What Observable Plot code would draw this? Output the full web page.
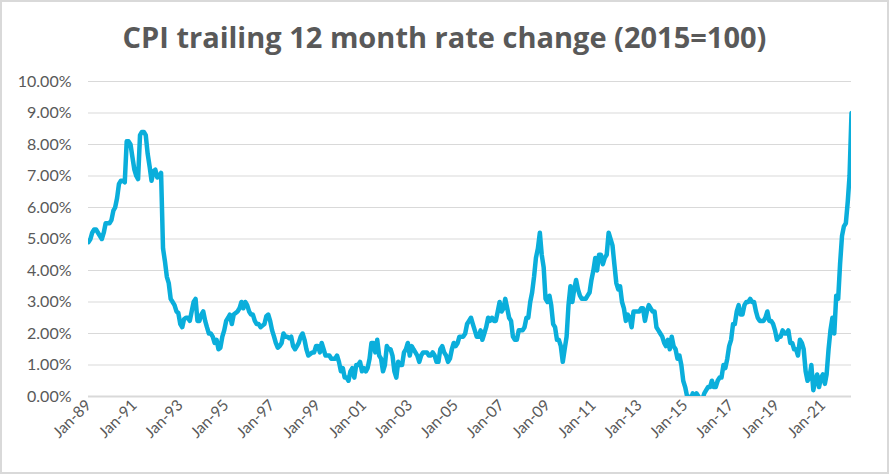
<!DOCTYPE html>
<html><head><meta charset="utf-8">
<script src="https://cdn.jsdelivr.net/npm/d3@7"></script>
<script src="https://cdn.jsdelivr.net/npm/@observablehq/plot@0.6"></script>
<style>
html,body{margin:0;padding:0;background:#fff;}
#chart{position:relative;width:889px;height:474px;background:#fff;}
#title{position:absolute;left:0;right:0;top:17px;line-height:40px;text-align:center;font-family:"Open Sans",sans-serif;font-weight:700;font-size:29px;color:#595959;}
#plot{position:absolute;left:0;top:0;}
#frame{position:absolute;left:0;top:0;width:889px;height:474px;box-sizing:border-box;border:2px solid #d9d9d9;pointer-events:none;}
</style></head><body>
<div id="chart"><div id="plot"></div><div id="title">CPI trailing 12 month rate change (2015=100)</div><div id="frame"></div></div>
<script>
// Monthly CPI 12-month rate (%), Jan..Dec of each year
const y1989 = [4.9, 5.0, 5.2, 5.3, 5.3, 5.2, 5.1, 5.0, 5.2, 5.5, 5.5, 5.5];
const y1990 = [5.6, 5.9, 6.0, 6.3, 6.75, 6.85, 6.85, 6.8, 8.1, 8.1, 8.0, 7.6];
const y1991 = [7.2, 7.0, 6.9, 8.3, 8.4, 8.4, 8.3, 7.7, 7.3, 6.85, 7.15, 7.2];
const y1992 = [6.95, 7.0, 7.1, 4.7, 4.3, 3.8, 3.6, 3.1, 3.0, 2.9, 2.7, 2.65];
const y1993 = [2.3, 2.2, 2.45, 2.5, 2.5, 2.4, 2.7, 3.0, 3.1, 2.4, 2.4, 2.6];
const y1994 = [2.7, 2.4, 2.2, 2.0, 2.0, 1.9, 1.7, 1.8, 1.5, 1.55, 1.9, 2.1];
const y1995 = [2.4, 2.5, 2.6, 2.3, 2.6, 2.65, 2.7, 2.8, 3.0, 2.8, 3.0, 2.9];
const y1996 = [2.7, 2.6, 2.6, 2.4, 2.3, 2.3, 2.2, 2.25, 2.3, 2.55, 2.6, 2.4];
const y1997 = [2.1, 1.9, 1.7, 1.55, 1.6, 1.7, 2.0, 1.9, 1.9, 1.85, 1.9, 1.6];
const y1998 = [1.5, 1.6, 1.7, 1.9, 2.0, 1.8, 1.5, 1.3, 1.35, 1.4, 1.4, 1.6];
const y1999 = [1.6, 1.4, 1.7, 1.5, 1.3, 1.3, 1.3, 1.2, 1.2, 1.2, 1.3, 1.1];
const y2000 = [0.8, 0.9, 0.6, 0.6, 0.5, 0.8, 0.9, 0.6, 1.0, 1.0, 1.1, 0.8];
const y2001 = [0.9, 0.8, 0.9, 1.2, 1.7, 1.7, 1.4, 1.8, 1.3, 1.2, 0.8, 1.0];
const y2002 = [1.6, 1.5, 1.5, 1.3, 0.8, 0.6, 1.1, 1.0, 1.0, 1.4, 1.5, 1.7];
const y2003 = [1.3, 1.6, 1.5, 1.4, 1.3, 1.1, 1.3, 1.4, 1.4, 1.4, 1.3, 1.3];
const y2004 = [1.4, 1.3, 1.1, 1.1, 1.5, 1.6, 1.4, 1.3, 1.1, 1.2, 1.5, 1.7];
const y2005 = [1.6, 1.7, 1.9, 1.9, 1.9, 2.0, 2.3, 2.4, 2.5, 2.3, 2.1, 1.9];
const y2006 = [1.9, 2.1, 1.8, 2.0, 2.2, 2.5, 2.4, 2.5, 2.4, 2.4, 2.7, 3.0];
const y2007 = [2.7, 2.8, 3.1, 2.8, 2.5, 2.4, 1.9, 1.8, 1.8, 2.1, 2.1, 2.1];
const y2008 = [2.2, 2.5, 2.5, 3.0, 3.3, 3.8, 4.4, 4.7, 5.2, 4.5, 4.1, 3.1];
const y2009 = [3.0, 3.2, 2.9, 2.3, 2.2, 1.8, 1.8, 1.6, 1.1, 1.5, 1.9, 2.9];
const y2010 = [3.5, 3.0, 3.4, 3.7, 3.4, 3.2, 3.1, 3.1, 3.1, 3.2, 3.3, 3.7];
const y2011 = [4.0, 4.4, 4.0, 4.5, 4.5, 4.2, 4.4, 4.5, 5.2, 5.0, 4.8, 4.2];
const y2012 = [3.6, 3.4, 3.5, 3.0, 2.8, 2.4, 2.6, 2.5, 2.2, 2.7, 2.7, 2.7];
const y2013 = [2.7, 2.8, 2.8, 2.4, 2.7, 2.9, 2.8, 2.7, 2.7, 2.2, 2.1, 2.0];
const y2014 = [1.9, 1.7, 1.6, 1.8, 1.5, 1.9, 1.6, 1.5, 1.2, 1.3, 1.0, 0.5];
const y2015 = [0.3, 0.0, 0.0, -0.1, 0.1, 0.0, 0.1, 0.0, -0.1, -0.1, 0.1, 0.2];
const y2016 = [0.3, 0.3, 0.5, 0.3, 0.3, 0.5, 0.6, 0.6, 1.0, 0.9, 1.2, 1.6];
const y2017 = [1.8, 2.3, 2.3, 2.7, 2.9, 2.6, 2.6, 2.9, 3.0, 3.0, 3.1, 3.0];
const y2018 = [3.0, 2.7, 2.5, 2.4, 2.4, 2.4, 2.5, 2.7, 2.4, 2.4, 2.3, 2.1];
const y2019 = [1.8, 1.9, 1.9, 2.1, 2.0, 2.0, 2.1, 1.7, 1.7, 1.5, 1.5, 1.3];
const y2020 = [1.8, 1.7, 1.5, 0.8, 0.5, 0.6, 1.0, 0.2, 0.5, 0.7, 0.3, 0.6];
const y2021 = [0.7, 0.4, 0.7, 1.5, 2.1, 2.5, 2.0, 3.2, 3.1, 4.2, 5.1, 5.4];
const y2022 = [5.5, 6.2, 7.0, 9.0];

const yearSeries = [
  [1989, y1989], [1990, y1990], [1991, y1991], [1992, y1992], [1993, y1993],
  [1994, y1994], [1995, y1995], [1996, y1996], [1997, y1997], [1998, y1998],
  [1999, y1999], [2000, y2000], [2001, y2001], [2002, y2002], [2003, y2003],
  [2004, y2004], [2005, y2005], [2006, y2006], [2007, y2007], [2008, y2008],
  [2009, y2009], [2010, y2010], [2011, y2011], [2012, y2012], [2013, y2013],
  [2014, y2014], [2015, y2015], [2016, y2016], [2017, y2017], [2018, y2018],
  [2019, y2019], [2020, y2020], [2021, y2021], [2022, y2022]
];

const tickYears = [1989, 1991, 1993, 1995, 1997, 1999, 2001, 2003, 2005, 2007, 2009, 2011, 2013, 2015, 2017, 2019, 2021];
const tickLabels = ["Jan-89", "Jan-91", "Jan-93", "Jan-95", "Jan-97", "Jan-99", "Jan-01", "Jan-03", "Jan-05", "Jan-07", "Jan-09", "Jan-11", "Jan-13", "Jan-15", "Jan-17", "Jan-19", "Jan-21"];
const yTicks = [0, 1, 2, 3, 4, 5, 6, 7, 8, 9, 10];

const data = yearSeries.flatMap(([yr, vals]) => vals.map((v, i) => ({date: new Date(Date.UTC(yr, i, 1)), value: v})));
const tickDates = tickYears.map(y => new Date(Date.UTC(y, 0, 1)));
const labelFor = d => tickLabels[tickDates.findIndex(t => +t === +d)];

const chart = Plot.plot({
  width: 889, height: 474,
  marginTop: 81, marginBottom: 78, marginLeft: 88, marginRight: 38,
  style: {fontFamily: "Lato, sans-serif", fontSize: "16px", color: "#595959", background: "transparent", overflow: "visible"},
  x: {type: "utc", domain: [data[0].date, data[data.length - 1].date], label: null},
  y: {domain: [0, 10], label: null},
  marks: [
    Plot.ruleY(yTicks.filter(d => d > 0), {stroke: "#d9d9d9", strokeWidth: 1}),
    Plot.ruleY([0], {stroke: "#d9d9d9", strokeWidth: 2}),
    Plot.axisY(yTicks, {tickSize: 0, tickPadding: 17, tickFormat: d => d.toFixed(2) + "%", fontSize: 16, label: null}),
    Plot.axisX(tickDates, {tickSize: 0, tickPadding: 6, tickRotate: -45, tickFormat: labelFor, fontSize: 15.5, label: null}),
    Plot.lineY(data, {x: "date", y: "value", stroke: "#0aaedb", strokeWidth: 4.5, clip: true, strokeLinejoin: "round"})
  ]
});
document.getElementById("plot").appendChild(chart);
</script>
</body></html>
